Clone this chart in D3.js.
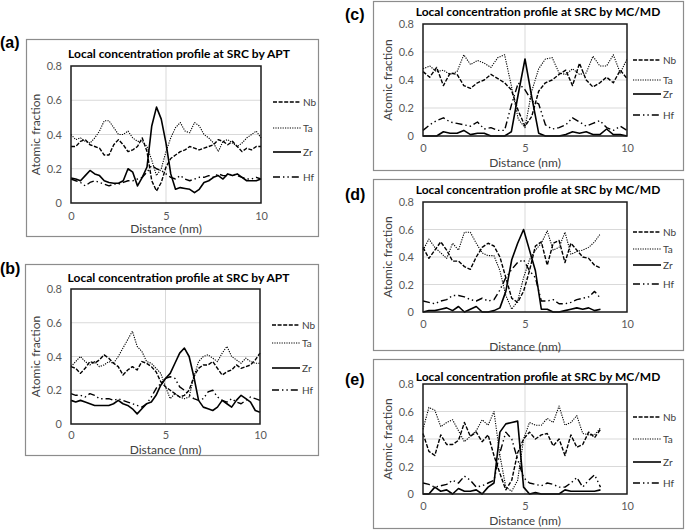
<!DOCTYPE html>
<html><head><meta charset="utf-8">
<script src="https://cdn.jsdelivr.net/npm/d3@7"></script>
<style>body{margin:0;background:#fff}svg{display:block}</style>
</head><body>
<svg id="c" width="685" height="530"></svg>
<script>
// ---------- data ----------
const elements = ["Nb", "Ta", "Zr", "Hf"];
const xTicks = [0, 5, 10];
const yTicks = [0, 0.2, 0.4, 0.6, 0.8];
const yTickLabels = ["0", "0.2", "0.4", "0.6", "0.8"];
const titleAPT = "Local concentration profile at SRC by APT";
const titleMC = "Local concentration profile at SRC by MC/MD";

const distAPT = [0,0.25,0.5,0.75,1,1.25,1.5,1.75,2,2.25,2.5,2.75,3,3.25,3.5,3.75,4,4.25,4.5,4.75,5,5.25,5.5,5.75,6,6.25,6.5,6.75,7,7.25,7.5,7.75,8,8.25,8.5,8.75,9,9.25,9.5,9.75,10];
const distC = [0,0.33,0.67,1,1.33,1.67,2,2.33,2.67,3,3.33,3.67,4,4.33,4.67,5,5.33,5.67,6,6.33,6.67,7,7.33,7.67,8,8.33,8.67,9,9.33,9.67,10];
const distMD = [0,0.29,0.58,0.87,1.16,1.45,1.74,2.03,2.32,2.61,2.9,3.19,3.48,3.77,4.06,4.35,4.64,4.93,5.22,5.51,5.8,6.09,6.38,6.67,6.96,7.25,7.54,7.83,8.12,8.41,8.7];

// (a) APT
const aNb = [0.33,0.33,0.36,0.37,0.34,0.33,0.32,0.28,0.28,0.34,0.37,0.34,0.30,0.31,0.33,0.38,0.30,0.13,0.07,0.12,0.21,0.26,0.28,0.30,0.31,0.33,0.32,0.31,0.32,0.33,0.34,0.37,0.36,0.34,0.36,0.33,0.30,0.32,0.31,0.33,0.33];
const aTa = [0.40,0.37,0.38,0.36,0.35,0.38,0.42,0.48,0.48,0.44,0.40,0.40,0.42,0.38,0.36,0.36,0.33,0.25,0.16,0.20,0.30,0.38,0.44,0.47,0.42,0.41,0.47,0.45,0.40,0.38,0.35,0.30,0.36,0.37,0.35,0.33,0.35,0.38,0.40,0.42,0.38];
const aZr = [0.146,0.14,0.13,0.16,0.19,0.17,0.16,0.13,0.12,0.115,0.115,0.13,0.20,0.18,0.10,0.15,0.21,0.45,0.56,0.49,0.35,0.17,0.08,0.09,0.085,0.08,0.06,0.08,0.12,0.13,0.15,0.16,0.14,0.17,0.16,0.17,0.15,0.13,0.13,0.13,0.14];
const aHf = [0.14,0.13,0.12,0.10,0.12,0.13,0.12,0.11,0.10,0.11,0.11,0.12,0.13,0.13,0.14,0.15,0.18,0.22,0.20,0.19,0.17,0.15,0.14,0.16,0.14,0.13,0.14,0.15,0.15,0.16,0.15,0.17,0.16,0.16,0.17,0.16,0.15,0.14,0.14,0.15,0.14];

// (b) APT
const bNb = [0.34,0.33,0.30,0.33,0.37,0.36,0.38,0.41,0.39,0.36,0.34,0.29,0.32,0.34,0.32,0.37,0.36,0.34,0.31,0.25,0.22,0.20,0.18,0.16,0.17,0.20,0.28,0.33,0.35,0.35,0.37,0.33,0.29,0.31,0.32,0.35,0.33,0.34,0.35,0.38,0.42];
const bTa = [0.34,0.37,0.40,0.37,0.35,0.37,0.34,0.35,0.37,0.36,0.40,0.45,0.50,0.55,0.46,0.43,0.37,0.36,0.33,0.30,0.22,0.15,0.18,0.16,0.15,0.16,0.28,0.37,0.40,0.41,0.39,0.37,0.42,0.46,0.40,0.38,0.36,0.39,0.37,0.36,0.36];
const bZr = [0.14,0.13,0.14,0.13,0.12,0.11,0.11,0.11,0.11,0.12,0.14,0.12,0.11,0.09,0.06,0.09,0.12,0.13,0.17,0.23,0.27,0.30,0.36,0.42,0.45,0.40,0.28,0.14,0.10,0.09,0.08,0.10,0.14,0.12,0.10,0.14,0.17,0.15,0.13,0.08,0.07];
const bHf = [0.18,0.17,0.17,0.16,0.18,0.17,0.15,0.15,0.15,0.14,0.15,0.14,0.13,0.12,0.11,0.10,0.12,0.16,0.21,0.24,0.27,0.28,0.27,0.22,0.20,0.17,0.15,0.14,0.15,0.19,0.20,0.16,0.14,0.13,0.15,0.13,0.12,0.14,0.16,0.15,0.14];

// (c) MC/MD
const cNb = [0.46,0.42,0.49,0.36,0.45,0.44,0.36,0.34,0.38,0.40,0.44,0.41,0.38,0.33,0.18,0.07,0.14,0.32,0.38,0.40,0.44,0.47,0.36,0.52,0.40,0.35,0.38,0.42,0.38,0.47,0.41];
const cTa = [0.48,0.50,0.46,0.47,0.44,0.46,0.58,0.51,0.54,0.52,0.49,0.56,0.58,0.36,0.12,0.06,0.32,0.48,0.55,0.56,0.45,0.44,0.48,0.44,0.45,0.57,0.50,0.50,0.58,0.45,0.55];
const cZr = [0,0,0,0.03,0.02,0.02,0.04,0.01,0.02,0.02,0,0,0,0.03,0.30,0.55,0.28,0.02,0,0,0,0.01,0.03,0.02,0.03,0.01,0.01,0.05,0.01,0.01,0];
const cHf = [0.04,0.08,0.11,0.13,0.10,0.09,0.08,0.07,0.10,0.05,0.06,0.04,0.04,0.22,0.38,0.33,0.25,0.23,0.08,0.05,0.06,0.08,0.13,0.10,0.07,0.09,0.11,0.06,0.04,0.07,0.04];

// (d) MC/MD
const dNb = [0.47,0.39,0.45,0.51,0.45,0.37,0.37,0.33,0.31,0.40,0.47,0.50,0.48,0.40,0.25,0.10,0.07,0.15,0.30,0.48,0.51,0.34,0.50,0.52,0.36,0.50,0.45,0.40,0.39,0.34,0.32];
const dTa = [0.45,0.53,0.47,0.43,0.39,0.50,0.45,0.58,0.58,0.50,0.43,0.41,0.41,0.30,0.12,0.02,0.08,0.25,0.38,0.45,0.50,0.59,0.45,0.47,0.58,0.42,0.44,0.45,0.47,0.51,0.57];
const dZr = [0,0.01,0.01,0.02,0.03,0.01,0.04,0,0.02,0.04,0,0,0.01,0.03,0.15,0.38,0.50,0.60,0.45,0.30,0.02,0.02,0,0,0.01,0.02,0.03,0.02,0.03,0.01,0.02];
const dHf = [0.08,0.07,0.06,0.08,0.09,0.12,0.12,0.11,0.09,0.08,0.10,0.08,0.09,0.16,0.25,0.31,0.36,0.38,0.30,0.25,0.08,0.08,0.09,0.06,0.06,0.07,0.09,0.10,0.11,0.15,0.10];

// (e) MC/MD
const eNb = [0.44,0.31,0.28,0.43,0.36,0.36,0.39,0.52,0.42,0.45,0.38,0.43,0.28,0.15,0.03,0.10,0.30,0.40,0.45,0.40,0.43,0.44,0.35,0.40,0.28,0.43,0.34,0.36,0.45,0.41,0.47];
const eTa = [0.47,0.63,0.61,0.49,0.52,0.54,0.46,0.38,0.42,0.46,0.54,0.50,0.60,0.28,0.05,0.02,0.10,0.40,0.52,0.50,0.50,0.55,0.52,0.64,0.50,0.52,0.57,0.44,0.43,0.43,0.48];
const eZr = [0,0,0.05,0.02,0.03,0,0.04,0.02,0.02,0.03,0,0.05,0.08,0.45,0.51,0.52,0.53,0.05,0,0.01,0,0,0,0,0.03,0.02,0.02,0.02,0.02,0.02,0.03];
const eHf = [0.08,0.07,0.05,0.06,0.07,0.10,0.08,0.13,0.10,0.05,0.06,0.08,0.10,0.30,0.45,0.40,0.25,0.12,0.08,0.07,0.06,0.08,0.07,0.05,0.05,0.08,0.12,0.05,0.10,0.14,0.05];

// ---------- drawing ----------
const svg = d3.select("#c");
const FONT = "Lato, 'Open Sans', sans-serif";
const styles = {
  Nb: {dash: "4,1.6", w: 1.4},
  Ta: {dash: "1.2,1.2", w: 1.1},
  Zr: {dash: null, w: 1.6},
  Hf: {dash: "7,3,1.4,3,1.4,3", w: 1.4}
};

const panels = [
  {lab:"(a)", labXY:[0,48], title:titleAPT, box:[26,39,318,236], plot:[71,66,261,203], titleY:58, tickOff:6, xTitleY:233, legX:273, legY:[102,128,152,177],
   dist:distAPT, series:{Nb:aNb, Ta:aTa, Zr:aZr, Hf:aHf}},
  {lab:"(b)", labXY:[0,274], title:titleAPT, box:[25,264,318,455], plot:[71,289,260,424], titleY:282, tickOff:4, xTitleY:454, legX:272, legY:[325,343,368,390],
   dist:distAPT, series:{Nb:bNb, Ta:bTa, Zr:bZr, Hf:bHf}},
  {lab:"(c)", labXY:[345,20], title:titleMC, box:[373,1,683,170], plot:[423,24,627,136], titleY:16, tickOff:5, xTitleY:167, legX:633, legY:[60,80,94,115],
   dist:distC, series:{Nb:cNb, Ta:cTa, Zr:cZr, Hf:cHf}},
  {lab:"(d)", labXY:[345,200], title:titleMC, box:[373,179,683,350], plot:[423,202,627,312], titleY:194, tickOff:5, xTitleY:351, legX:633, legY:[232,249,265,284],
   dist:distMD, series:{Nb:dNb, Ta:dTa, Zr:dZr, Hf:dHf}},
  {lab:"(e)", labXY:[345,385], title:titleMC, box:[373,359,683,528], plot:[423,384,627,494], titleY:381, tickOff:5, xTitleY:525, legX:633, legY:[417,439,462,483],
   dist:distMD, series:{Nb:eNb, Ta:eTa, Zr:eZr, Hf:eHf}}
];

panels.forEach(p => {
  const g = svg.append("g");
  const [bx0, by0, bx1, by1] = p.box;
  const [px0, py0, px1, py1] = p.plot;
  g.append("rect").attr("x", bx0 + 0.5).attr("y", by0 + 0.5).attr("width", bx1 - bx0).attr("height", by1 - by0)
    .attr("fill", "#fff").attr("stroke", "#8c8c8c").attr("stroke-width", 1.2);
  svg.append("text").attr("x", p.labXY[0]).attr("y", p.labXY[1]).text(p.lab)
    .attr("font-family", "'Liberation Sans', Arial, sans-serif").attr("font-weight", "bold").attr("font-size", 16).attr("fill", "#000");

  const x = d3.scaleLinear().domain([0, 10]).range([px0, px1]);
  const y = d3.scaleLinear().domain([0, 0.8]).range([py1, py0]);

  // gridlines
  g.append("g").selectAll("line").data(yTicks.slice(1, -1)).join("line")
    .attr("x1", px0).attr("x2", px1).attr("y1", d => y(d)).attr("y2", d => y(d))
    .attr("stroke", "#d9d9d9").attr("stroke-width", 1);
  g.append("line").attr("x1", x(5)).attr("x2", x(5)).attr("y1", py0).attr("y2", py1)
    .attr("stroke", "#d9d9d9").attr("stroke-width", 1);

  // axes
  const ya = g.append("g").attr("transform", `translate(${px0 - 6},0)`)
    .call(d3.axisLeft(y).tickValues(yTicks).tickFormat((d, i) => yTickLabels[i]).tickSize(0));
  ya.select(".domain").remove();
  ya.selectAll("text").attr("font-family", FONT).attr("font-size", 11).attr("fill", "#595959");
  const xa = g.append("g").attr("transform", `translate(0,${py1 + p.tickOff})`)
    .call(d3.axisBottom(x).tickValues(xTicks).tickFormat(d3.format("d")).tickSize(0));
  xa.select(".domain").remove();
  xa.selectAll("text").attr("font-family", FONT).attr("font-size", 11).attr("fill", "#595959");

  // lines
  const line = d3.line().x((d, i) => x(p.dist[i])).y(d => y(d));
  elements.forEach(el => {
    const st = styles[el];
    g.append("path").datum(p.series[el]).attr("d", line)
      .attr("fill", "none").attr("stroke", "#000").attr("stroke-width", st.w)
      .attr("stroke-dasharray", st.dash).attr("stroke-linejoin", "round");
  });

  // plot frame
  g.append("rect").attr("x", px0).attr("y", py0).attr("width", px1 - px0).attr("height", py1 - py0)
    .attr("fill", "none").attr("stroke", "#1a1a1a").attr("stroke-width", 1.5);

  // titles
  g.append("text").attr("x", (px0 + px1) / 2 + 13).attr("y", p.titleY).attr("text-anchor", "middle")
    .attr("font-family", FONT).attr("font-weight", "bold").attr("font-size", 12).attr("fill", "#000").text(p.title);
  g.append("text").attr("transform", `translate(${px0 - 31},${(py0 + py1) / 2}) rotate(-90)`).attr("text-anchor", "middle")
    .attr("font-family", FONT).attr("font-size", 12).attr("fill", "#404040").text("Atomic fraction");
  g.append("text").attr("x", (px0 + px1) / 2).attr("y", p.xTitleY).attr("text-anchor", "middle")
    .attr("font-family", FONT).attr("font-size", 12).attr("fill", "#404040").text("Distance (nm)");

  // legend
  elements.forEach((el, i) => {
    const st = styles[el];
    const ly = p.legY[i];
    g.append("line").attr("x1", p.legX).attr("x2", p.legX + 28).attr("y1", ly).attr("y2", ly)
      .attr("stroke", "#000").attr("stroke-width", st.w).attr("stroke-dasharray", st.dash);
    g.append("text").attr("x", p.legX + 30).attr("y", ly + 3.5).attr("font-family", FONT).attr("font-size", 10)
      .attr("fill", "#404040").text(el);
  });
});
</script>
</body></html>
